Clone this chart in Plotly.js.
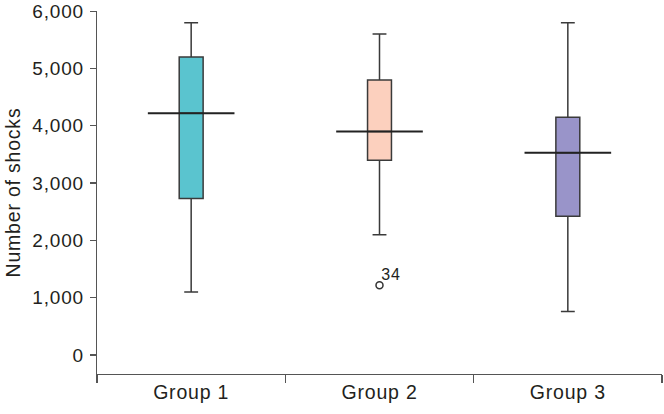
<!DOCTYPE html>
<html>
<head>
<meta charset="utf-8">
<script src="https://cdn.plot.ly/plotly-3.0.1.min.js"></script>
<style>
  html, body { margin: 0; padding: 0; background: #fff; }
  #chart { width: 664px; height: 414px; }
  #chart text { letter-spacing: 0.8px; }
</style>
</head>
<body>
<div id="chart"></div>
<script>
// ---- Data ----
const groups      = ['Group 1', 'Group 2', 'Group 3'];
const lowerFence  = [1100, 2100, 760];
const q1Values    = [2730, 3400, 2420];
const medianVals  = [4220, 3900, 3530];
const q3Values    = [5200, 4800, 4150];
const upperFence  = [5800, 5600, 5800];
const fillColors  = ['#5ac4cf', '#fcd0be', '#9994c9'];

const outlierGroup = ['Group 2'];
const outlierValue = [1220];
const outlierLabel = ['34'];

const yTicks = [0, 1000, 2000, 3000, 4000, 5000, 6000];

// ---- Traces ----
const font = 'Liberation Sans, Arial, Helvetica, sans-serif';
const traces = [];

groups.forEach((g, i) => {
  traces.push({
    type: 'box',
    x: [g],
    q1: [q1Values[i]],
    median: [medianVals[i]],
    q3: [q3Values[i]],
    lowerfence: [lowerFence[i]],
    upperfence: [upperFence[i]],
    width: 0.127,
    whiskerwidth: 0.58,
    fillcolor: fillColors[i],
    line: { color: '#3a3a3a', width: 1.5 },
    boxpoints: false,
    hoverinfo: 'skip',
    showlegend: false
  });
});

// Wide median bars (drawn as flat boxes)
traces.push({
  type: 'box',
  x: groups,
  q1: medianVals,
  median: medianVals,
  q3: medianVals,
  lowerfence: medianVals,
  upperfence: medianVals,
  width: 0.46,
  whiskerwidth: 0,
  fillcolor: 'rgba(0,0,0,0)',
  line: { color: '#222222', width: 2 },
  boxpoints: false,
  hoverinfo: 'skip',
  showlegend: false
});

// Outlier
traces.push({
  type: 'scatter',
  mode: 'markers',
  x: outlierGroup,
  y: outlierValue,
  marker: { symbol: 'circle-open', size: 7, color: '#333333', line: { width: 1.5, color: '#333333' } },
  hoverinfo: 'skip',
  showlegend: false,
  cliponaxis: false
});

const annotations = outlierGroup.map((g, i) => ({
  x: g,
  y: outlierValue[i],
  xref: 'x',
  yref: 'y',
  text: outlierLabel[i],
  showarrow: false,
  xanchor: 'left',
  yanchor: 'bottom',
  xshift: 1,
  yshift: 1,
  borderpad: 0,
  font: { family: font, size: 16, color: '#231f20' }
}));

const layout = {
  width: 664,
  height: 414,
  margin: { l: 97, r: 2, t: 11, b: 40 },
  paper_bgcolor: '#ffffff',
  plot_bgcolor: '#ffffff',
  boxmode: 'overlay',
  showlegend: false,
  annotations: annotations,
  font: { family: font, size: 19, color: '#231f20' },
  xaxis: {
    type: 'category',
    categoryorder: 'array',
    categoryarray: groups,
    range: [-0.5, 2.5],
    showline: true,
    linecolor: '#555555',
    linewidth: 1.3,
    ticks: 'outside',
    tickson: 'boundaries',
    ticklen: 8,
    tickwidth: 1.3,
    tickcolor: '#555555',
    showgrid: false,
    zeroline: false,
    tickfont: { family: font, size: 19.5, color: '#231f20' }
  },
  yaxis: {
    range: [-330, 6003],
    tickvals: yTicks,
    tickformat: ',',
    ticklabeloverflow: 'allow',
    showline: true,
    linecolor: '#555555',
    linewidth: 1.3,
    ticks: 'outside',
    ticklen: 6,
    tickwidth: 1.3,
    tickcolor: '#555555',
    showgrid: false,
    zeroline: false,
    ticklabelstandoff: 2,
    tickfont: { family: font, size: 19, color: '#231f20' },
    title: { text: 'Number of shocks', font: { family: font, size: 19.5, color: '#231f20' }, standoff: 10 }
  }
};

Plotly.newPlot('chart', traces, layout, { displayModeBar: false, staticPlot: true });
</script>
</body>
</html>
